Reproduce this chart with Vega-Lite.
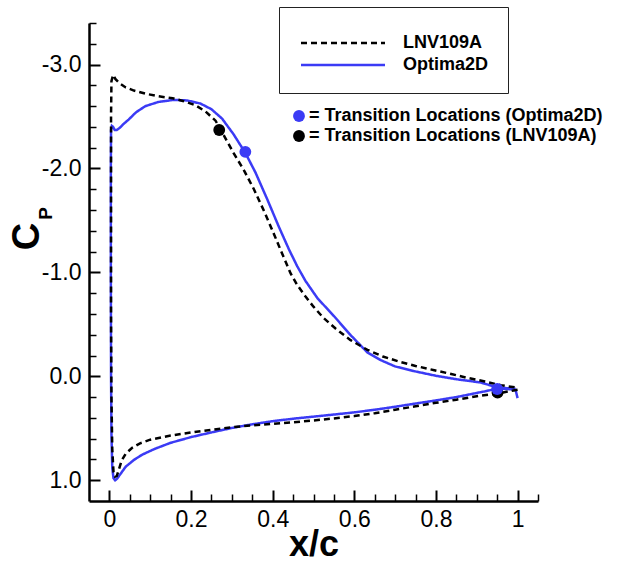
{
  "$schema": "https://vega.github.io/schema/vega-lite/v6.json",
  "width": 449,
  "height": 478,
  "autosize": {"type": "none"},
  "padding": {"left": 89, "top": 23, "right": 88, "bottom": 61},
  "background": "white",
  "datasets": {
    "cp": [
      {"series": "Optima2D", "i": 0, "x": 1.0, "cp": 0.21},
      {"series": "Optima2D", "i": 1, "x": 0.995, "cp": 0.13},
      {"series": "Optima2D", "i": 2, "x": 0.975, "cp": 0.122},
      {"series": "Optima2D", "i": 3, "x": 0.95, "cp": 0.118},
      {"series": "Optima2D", "i": 4, "x": 0.92, "cp": 0.145},
      {"series": "Optima2D", "i": 5, "x": 0.9, "cp": 0.16},
      {"series": "Optima2D", "i": 6, "x": 0.85, "cp": 0.2},
      {"series": "Optima2D", "i": 7, "x": 0.8, "cp": 0.232},
      {"series": "Optima2D", "i": 8, "x": 0.75, "cp": 0.262},
      {"series": "Optima2D", "i": 9, "x": 0.7, "cp": 0.293},
      {"series": "Optima2D", "i": 10, "x": 0.65, "cp": 0.322},
      {"series": "Optima2D", "i": 11, "x": 0.6, "cp": 0.347},
      {"series": "Optima2D", "i": 12, "x": 0.55, "cp": 0.368},
      {"series": "Optima2D", "i": 13, "x": 0.5, "cp": 0.388},
      {"series": "Optima2D", "i": 14, "x": 0.45, "cp": 0.408},
      {"series": "Optima2D", "i": 15, "x": 0.4, "cp": 0.432},
      {"series": "Optima2D", "i": 16, "x": 0.35, "cp": 0.462},
      {"series": "Optima2D", "i": 17, "x": 0.3, "cp": 0.497},
      {"series": "Optima2D", "i": 18, "x": 0.25, "cp": 0.54},
      {"series": "Optima2D", "i": 19, "x": 0.2, "cp": 0.585},
      {"series": "Optima2D", "i": 20, "x": 0.15, "cp": 0.64},
      {"series": "Optima2D", "i": 21, "x": 0.11, "cp": 0.7},
      {"series": "Optima2D", "i": 22, "x": 0.08, "cp": 0.755},
      {"series": "Optima2D", "i": 23, "x": 0.06, "cp": 0.805},
      {"series": "Optima2D", "i": 24, "x": 0.04, "cp": 0.87},
      {"series": "Optima2D", "i": 25, "x": 0.027, "cp": 0.94},
      {"series": "Optima2D", "i": 26, "x": 0.019, "cp": 0.985},
      {"series": "Optima2D", "i": 27, "x": 0.014, "cp": 1.0},
      {"series": "Optima2D", "i": 28, "x": 0.01, "cp": 0.98},
      {"series": "Optima2D", "i": 29, "x": 0.007, "cp": 0.88},
      {"series": "Optima2D", "i": 30, "x": 0.005, "cp": 0.55},
      {"series": "Optima2D", "i": 31, "x": 0.004, "cp": 0.0},
      {"series": "Optima2D", "i": 32, "x": 0.0035, "cp": -1.0},
      {"series": "Optima2D", "i": 33, "x": 0.0035, "cp": -2.0},
      {"series": "Optima2D", "i": 34, "x": 0.004, "cp": -2.37},
      {"series": "Optima2D", "i": 35, "x": 0.006, "cp": -2.41},
      {"series": "Optima2D", "i": 36, "x": 0.009, "cp": -2.4},
      {"series": "Optima2D", "i": 37, "x": 0.013, "cp": -2.37},
      {"series": "Optima2D", "i": 38, "x": 0.018, "cp": -2.37},
      {"series": "Optima2D", "i": 39, "x": 0.025, "cp": -2.39},
      {"series": "Optima2D", "i": 40, "x": 0.035, "cp": -2.43},
      {"series": "Optima2D", "i": 41, "x": 0.047, "cp": -2.47},
      {"series": "Optima2D", "i": 42, "x": 0.065, "cp": -2.54},
      {"series": "Optima2D", "i": 43, "x": 0.088, "cp": -2.6},
      {"series": "Optima2D", "i": 44, "x": 0.12, "cp": -2.64},
      {"series": "Optima2D", "i": 45, "x": 0.157, "cp": -2.66},
      {"series": "Optima2D", "i": 46, "x": 0.19, "cp": -2.655},
      {"series": "Optima2D", "i": 47, "x": 0.223, "cp": -2.625},
      {"series": "Optima2D", "i": 48, "x": 0.25, "cp": -2.57},
      {"series": "Optima2D", "i": 49, "x": 0.276, "cp": -2.48},
      {"series": "Optima2D", "i": 50, "x": 0.304, "cp": -2.33},
      {"series": "Optima2D", "i": 51, "x": 0.333, "cp": -2.15},
      {"series": "Optima2D", "i": 52, "x": 0.358, "cp": -1.96},
      {"series": "Optima2D", "i": 53, "x": 0.386, "cp": -1.71},
      {"series": "Optima2D", "i": 54, "x": 0.415, "cp": -1.44},
      {"series": "Optima2D", "i": 55, "x": 0.44, "cp": -1.22},
      {"series": "Optima2D", "i": 56, "x": 0.46, "cp": -1.06},
      {"series": "Optima2D", "i": 57, "x": 0.48, "cp": -0.92},
      {"series": "Optima2D", "i": 58, "x": 0.51, "cp": -0.75},
      {"series": "Optima2D", "i": 59, "x": 0.55, "cp": -0.58},
      {"series": "Optima2D", "i": 60, "x": 0.59, "cp": -0.4},
      {"series": "Optima2D", "i": 61, "x": 0.632, "cp": -0.23},
      {"series": "Optima2D", "i": 62, "x": 0.665, "cp": -0.155},
      {"series": "Optima2D", "i": 63, "x": 0.7, "cp": -0.095},
      {"series": "Optima2D", "i": 64, "x": 0.746, "cp": -0.05},
      {"series": "Optima2D", "i": 65, "x": 0.8, "cp": -0.005},
      {"series": "Optima2D", "i": 66, "x": 0.85, "cp": 0.028},
      {"series": "Optima2D", "i": 67, "x": 0.91, "cp": 0.06},
      {"series": "Optima2D", "i": 68, "x": 0.951, "cp": 0.108},
      {"series": "Optima2D", "i": 69, "x": 0.975, "cp": 0.115},
      {"series": "Optima2D", "i": 70, "x": 0.995, "cp": 0.12},

      {"series": "LNV109A", "i": 0, "x": 1.0, "cp": 0.13},
      {"series": "LNV109A", "i": 1, "x": 0.99, "cp": 0.137},
      {"series": "LNV109A", "i": 2, "x": 0.95, "cp": 0.166},
      {"series": "LNV109A", "i": 3, "x": 0.9, "cp": 0.192},
      {"series": "LNV109A", "i": 4, "x": 0.85, "cp": 0.225},
      {"series": "LNV109A", "i": 5, "x": 0.8, "cp": 0.255},
      {"series": "LNV109A", "i": 6, "x": 0.75, "cp": 0.288},
      {"series": "LNV109A", "i": 7, "x": 0.7, "cp": 0.322},
      {"series": "LNV109A", "i": 8, "x": 0.65, "cp": 0.355},
      {"series": "LNV109A", "i": 9, "x": 0.6, "cp": 0.383},
      {"series": "LNV109A", "i": 10, "x": 0.55, "cp": 0.405},
      {"series": "LNV109A", "i": 11, "x": 0.5, "cp": 0.425},
      {"series": "LNV109A", "i": 12, "x": 0.45, "cp": 0.442},
      {"series": "LNV109A", "i": 13, "x": 0.4, "cp": 0.457},
      {"series": "LNV109A", "i": 14, "x": 0.35, "cp": 0.472},
      {"series": "LNV109A", "i": 15, "x": 0.3, "cp": 0.49},
      {"series": "LNV109A", "i": 16, "x": 0.25, "cp": 0.515},
      {"series": "LNV109A", "i": 17, "x": 0.2, "cp": 0.54},
      {"series": "LNV109A", "i": 18, "x": 0.15, "cp": 0.57},
      {"series": "LNV109A", "i": 19, "x": 0.1, "cp": 0.61},
      {"series": "LNV109A", "i": 20, "x": 0.075, "cp": 0.645},
      {"series": "LNV109A", "i": 21, "x": 0.055, "cp": 0.69},
      {"series": "LNV109A", "i": 22, "x": 0.04, "cp": 0.745},
      {"series": "LNV109A", "i": 23, "x": 0.03, "cp": 0.81},
      {"series": "LNV109A", "i": 24, "x": 0.023, "cp": 0.9},
      {"series": "LNV109A", "i": 25, "x": 0.018, "cp": 0.96},
      {"series": "LNV109A", "i": 26, "x": 0.014, "cp": 0.965},
      {"series": "LNV109A", "i": 27, "x": 0.01, "cp": 0.92},
      {"series": "LNV109A", "i": 28, "x": 0.007, "cp": 0.7},
      {"series": "LNV109A", "i": 29, "x": 0.005, "cp": 0.2},
      {"series": "LNV109A", "i": 30, "x": 0.004, "cp": -0.6},
      {"series": "LNV109A", "i": 31, "x": 0.004, "cp": -1.6},
      {"series": "LNV109A", "i": 32, "x": 0.004, "cp": -2.5},
      {"series": "LNV109A", "i": 33, "x": 0.005, "cp": -2.84},
      {"series": "LNV109A", "i": 34, "x": 0.009, "cp": -2.9},
      {"series": "LNV109A", "i": 35, "x": 0.015, "cp": -2.86},
      {"series": "LNV109A", "i": 36, "x": 0.025, "cp": -2.82},
      {"series": "LNV109A", "i": 37, "x": 0.04, "cp": -2.78},
      {"series": "LNV109A", "i": 38, "x": 0.06, "cp": -2.75},
      {"series": "LNV109A", "i": 39, "x": 0.088, "cp": -2.72},
      {"series": "LNV109A", "i": 40, "x": 0.12, "cp": -2.695},
      {"series": "LNV109A", "i": 41, "x": 0.155, "cp": -2.675},
      {"series": "LNV109A", "i": 42, "x": 0.18, "cp": -2.65},
      {"series": "LNV109A", "i": 43, "x": 0.21, "cp": -2.61},
      {"series": "LNV109A", "i": 44, "x": 0.235, "cp": -2.55},
      {"series": "LNV109A", "i": 45, "x": 0.26, "cp": -2.46},
      {"series": "LNV109A", "i": 46, "x": 0.28, "cp": -2.32},
      {"series": "LNV109A", "i": 47, "x": 0.304, "cp": -2.15},
      {"series": "LNV109A", "i": 48, "x": 0.33, "cp": -1.98},
      {"series": "LNV109A", "i": 49, "x": 0.354, "cp": -1.8},
      {"series": "LNV109A", "i": 50, "x": 0.38, "cp": -1.58},
      {"series": "LNV109A", "i": 51, "x": 0.403, "cp": -1.37},
      {"series": "LNV109A", "i": 52, "x": 0.42, "cp": -1.21},
      {"series": "LNV109A", "i": 53, "x": 0.444, "cp": -0.99},
      {"series": "LNV109A", "i": 54, "x": 0.46, "cp": -0.88},
      {"series": "LNV109A", "i": 55, "x": 0.48, "cp": -0.77},
      {"series": "LNV109A", "i": 56, "x": 0.5, "cp": -0.67},
      {"series": "LNV109A", "i": 57, "x": 0.525, "cp": -0.56},
      {"series": "LNV109A", "i": 58, "x": 0.554, "cp": -0.46},
      {"series": "LNV109A", "i": 59, "x": 0.59, "cp": -0.35},
      {"series": "LNV109A", "i": 60, "x": 0.632, "cp": -0.255},
      {"series": "LNV109A", "i": 61, "x": 0.67, "cp": -0.19},
      {"series": "LNV109A", "i": 62, "x": 0.714, "cp": -0.137},
      {"series": "LNV109A", "i": 63, "x": 0.75, "cp": -0.1},
      {"series": "LNV109A", "i": 64, "x": 0.796, "cp": -0.058},
      {"series": "LNV109A", "i": 65, "x": 0.84, "cp": -0.02},
      {"series": "LNV109A", "i": 66, "x": 0.877, "cp": 0.015},
      {"series": "LNV109A", "i": 67, "x": 0.92, "cp": 0.05},
      {"series": "LNV109A", "i": 68, "x": 0.959, "cp": 0.086},
      {"series": "LNV109A", "i": 69, "x": 1.0, "cp": 0.11}
    ],
    "transition": [
      {"marker": "= Transition Locations (LNV109A)", "x": 0.269, "cp": -2.37},
      {"marker": "= Transition Locations (LNV109A)", "x": 0.951, "cp": 0.156},
      {"marker": "= Transition Locations (Optima2D)", "x": 0.333, "cp": -2.16},
      {"marker": "= Transition Locations (Optima2D)", "x": 0.95, "cp": 0.122}
    ]
  },
  "layer": [
    {
      "data": {"name": "cp"},
      "mark": {"type": "line", "strokeWidth": 2.5, "clip": true},
      "encoding": {
        "x": {
          "field": "x",
          "type": "quantitative",
          "scale": {"domain": [-0.05, 1.05], "nice": false, "zero": false},
          "axis": {
            "orient": "bottom",
            "title": "x/c",
            "titleFontSize": 36,
            "titleBaseline": "alphabetic",
            "titleY": 54,
            "values": [0, 0.2, 0.4, 0.6, 0.8, 1],
            "format": "~g",
            "labelPadding": 18,
            "labelFlush": false,
            "labelOverlap": false,
            "tickSize": -11,
            "tickWidth": 2
          }
        },
        "y": {
          "field": "cp",
          "type": "quantitative",
          "scale": {"domain": [-3.4, 1.2], "reverse": true, "nice": false, "zero": false},
          "axis": {
            "orient": "left",
            "title": "C",
            "titleFontSize": 38,
            "titleAngle": -90,
            "titleAlign": "center",
            "titleBaseline": "alphabetic",
            "titleX": -51,
            "titleY": 213,
            "values": [-3, -2, -1, 0, 1],
            "labelExpr": "(datum.value < -0.001 ? '-' : '') + format(abs(datum.value), '.1f')",
            "labelPadding": 19,
            "labelOverlap": false,
            "tickSize": -11,
            "tickWidth": 2
          }
        },
        "color": {
          "field": "series",
          "type": "nominal",
          "scale": {"domain": ["LNV109A", "Optima2D"], "range": ["#000000", "#3b3bf5"]},
          "legend": {
            "title": " ",
            "titleFontSize": 6,
            "titlePadding": 2,
            "orient": "none",
            "legendX": 190,
            "legendY": -16,
            "padding": 19,
            "strokeColor": "#222222",
            "fillColor": "white",
            "symbolType": "M-1,0H13",
            "symbolSize": 144,
            "symbolStrokeWidth": 2.5,
            "labelFont": "Liberation Sans",
            "labelFontSize": 18,
            "labelFontWeight": "bold",
            "labelColor": "black",
            "labelOffset": 87,
            "labelLimit": 300,
            "rowPadding": 4
          }
        },
        "strokeDash": {
          "field": "series",
          "type": "nominal",
          "scale": {"domain": ["LNV109A", "Optima2D"], "range": [[6, 4], [1, 0]]},
          "legend": {"title": " "}
        },
        "order": {"field": "i", "type": "quantitative"}
      }
    },
    {
      "data": {"name": "transition"},
      "mark": {"type": "point", "shape": "circle", "filled": true, "size": 140, "opacity": 1, "strokeWidth": 0},
      "encoding": {
        "x": {
          "field": "x",
          "type": "quantitative",
          "axis": {
            "orient": "bottom",
            "title": null,
            "values": [0.05, 0.1, 0.15, 0.25, 0.3, 0.35, 0.45, 0.5, 0.55, 0.65, 0.7, 0.75, 0.85, 0.9, 0.95, 1.05],
            "labels": false,
            "domain": false,
            "tickSize": -7,
            "tickWidth": 1.5
          }
        },
        "y": {
          "field": "cp",
          "type": "quantitative",
          "axis": {
            "orient": "left",
            "title": "P",
            "titleFontSize": 19,
            "titleAngle": -90,
            "titleAlign": "center",
            "titleBaseline": "alphabetic",
            "titleX": -38,
            "titleY": 190,
            "values": [-3.4, -3.2, -2.8, -2.6, -2.4, -2.2, -1.8, -1.6, -1.4, -1.2, -0.8, -0.6, -0.4, -0.2, 0.2, 0.4, 0.6, 0.8],
            "labels": false,
            "domain": false,
            "tickSize": -7,
            "tickWidth": 1.5
          }
        },
        "fill": {
          "field": "marker",
          "type": "nominal",
          "scale": {
            "domain": ["= Transition Locations (Optima2D)", "= Transition Locations (LNV109A)"],
            "range": ["#3b3bf5", "#000000"]
          },
          "legend": {
            "title": null,
            "orient": "none",
            "legendX": 201,
            "legendY": 84,
            "padding": 0,
            "symbolType": "circle",
            "symbolSize": 140,
            "symbolStrokeWidth": 0,
            "labelFont": "Liberation Sans",
            "labelFontSize": 18,
            "labelFontWeight": "bold",
            "labelColor": "black",
            "labelOffset": 1,
            "labelLimit": 400,
            "rowPadding": 2
          }
        }
      }
    }
  ],
  "resolve": {"axis": {"x": "independent", "y": "independent"}},
  "config": {
    "view": {"stroke": null},
    "axis": {
      "grid": false,
      "ticks": true,
      "domainColor": "black",
      "domainWidth": 2.5,
      "tickColor": "black",
      "labelColor": "black",
      "labelFont": "Liberation Sans",
      "labelFontSize": 23,
      "titleColor": "black",
      "titleFont": "Liberation Sans",
      "titleFontWeight": "bold"
    }
  }
}
